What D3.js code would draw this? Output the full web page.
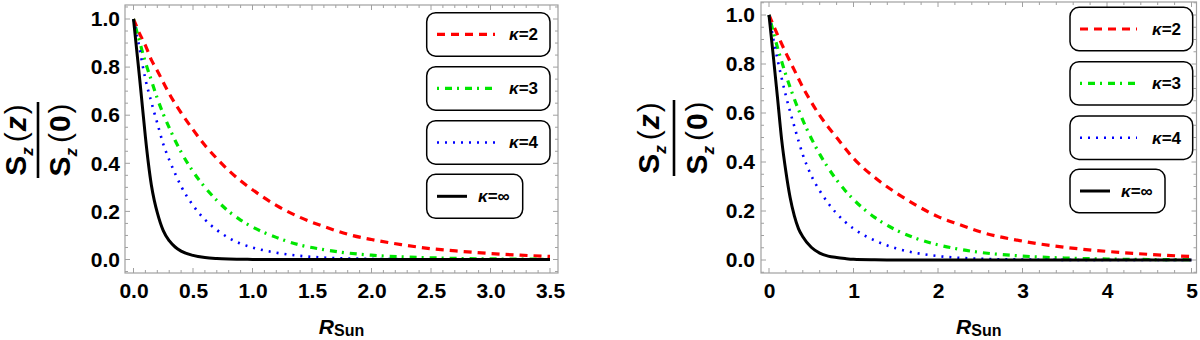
<!DOCTYPE html>
<html><head><meta charset="utf-8">
<script src="https://cdn.jsdelivr.net/npm/d3@7"></script>
<style>
body{margin:0;background:#fff}
svg{display:block}
text{font-family:"Liberation Sans",Arial,Helvetica,sans-serif}
</style>
</head><body>
<svg id="c" width="1200" height="340"></svg>
<script>
// ---------- data ----------
const kappaLabels = ["2", "3", "4", "\u221E"];

const leftX = [0,0.025,0.05,0.075,0.1,0.125,0.15,0.175,0.2,0.25,0.3,0.35,0.4,0.5,0.6,0.7,0.8,0.9,1.0,1.2,1.4,1.6,1.8,2.0,2.25,2.5,2.75,3.0,3.25,3.5];
const leftK2 = [1,0.97,0.94,0.915,0.89,0.86,0.83,0.807,0.785,0.737,0.69,0.648,0.61,0.54,0.475,0.42,0.37,0.327,0.29,0.225,0.175,0.137,0.105,0.083,0.062,0.045,0.034,0.025,0.018,0.013];
const leftK3 = [1,0.953,0.91,0.863,0.82,0.782,0.745,0.707,0.67,0.605,0.548,0.495,0.447,0.366,0.3,0.246,0.2,0.164,0.135,0.092,0.06,0.041,0.027,0.018,0.011,0.007,0.004,0.0025,0.0015,0.001];
const leftK4 = [1,0.94,0.88,0.812,0.75,0.7,0.655,0.61,0.567,0.48,0.415,0.357,0.305,0.225,0.166,0.123,0.09,0.066,0.05,0.028,0.015,0.008,0.0045,0.0025,0.0012,0.0006,0.0003,0.0001,0,0];
const leftKinf = [1,0.88,0.76,0.635,0.51,0.4,0.31,0.245,0.195,0.12,0.078,0.052,0.035,0.017,0.008,0.004,0.002,0.001,0.0005,0.0002,0.0001,0,0,0,0,0,0,0,0,0];

const rightX = [0,0.05,0.1,0.15,0.2,0.25,0.3,0.35,0.4,0.5,0.6,0.7,0.8,0.9,1.0,1.25,1.5,1.75,2.0,2.25,2.5,3.0,3.5,4.0,4.5,5.0];
const rightK2 = [1,0.96,0.92,0.882,0.845,0.81,0.775,0.74,0.705,0.645,0.59,0.543,0.5,0.456,0.415,0.337,0.275,0.222,0.177,0.145,0.115,0.077,0.052,0.035,0.023,0.014];
const rightK3 = [1,0.932,0.868,0.81,0.755,0.705,0.657,0.613,0.571,0.497,0.432,0.376,0.327,0.284,0.247,0.174,0.123,0.087,0.062,0.044,0.031,0.016,0.008,0.004,0.002,0.001];
const rightK4 = [1,0.905,0.82,0.742,0.67,0.605,0.545,0.485,0.43,0.345,0.283,0.232,0.19,0.156,0.128,0.08,0.048,0.028,0.016,0.009,0.005,0.002,0.0005,0,0,0];
const rightKinf = [1,0.835,0.665,0.49,0.36,0.255,0.18,0.127,0.095,0.052,0.028,0.016,0.01,0.006,0.003,0.001,0.0003,0,0,0,0,0,0,0,0,0];

const leftXTicks = [0,0.5,1,1.5,2,2.5,3,3.5];
const leftXTickLabels = ["0.0","0.5","1.0","1.5","2.0","2.5","3.0","3.5"];
const rightXTicks = [0,1,2,3,4,5];
const rightXTickLabels = ["0","1","2","3","4","5"];
const yTicks = [0,0.2,0.4,0.6,0.8,1.0];
const yTickLabels = ["0.0","0.2","0.4","0.6","0.8","1.0"];

// ---------- styles ----------
const styles = [
  {color:"#ff0000", width:3.2, dash:"8,6"},
  {color:"#00e600", width:3.2, dash:"2,6,7,5"},
  {color:"#0000ff", width:2.6, dash:"2,6"},
  {color:"#000000", width:3,   dash:null}
];

const svg = d3.select("#c");
const FONT = "'Liberation Sans',Arial,sans-serif";

function panel(cfg){
  const g = svg.append("g");
  const x = d3.scaleLinear().domain(cfg.xDomain).range(cfg.xRange);
  const y = d3.scaleLinear().domain([0,1]).range(cfg.yRange);
  const fx0 = cfg.frame[0], fy0 = cfg.frame[1], fx1 = cfg.frame[2], fy1 = cfg.frame[3];
  const id = "clip" + cfg.name;
  svg.append("clipPath").attr("id", id).append("rect")
    .attr("x", fx0).attr("y", fy0).attr("width", fx1-fx0).attr("height", fy1-fy0);

  // frame
  g.append("rect").attr("x", fx0).attr("y", fy0).attr("width", fx1-fx0).attr("height", fy1-fy0)
    .attr("fill","none").attr("stroke","#a0a0a0").attr("stroke-width",1.2);

  const tc = "#a0a0a0";
  const xMinor = d3.range(Math.ceil(x.invert(fx0)/cfg.xMinorStep), Math.floor(x.invert(fx1)/cfg.xMinorStep)+1).map(i=>+(i*cfg.xMinorStep).toFixed(4));
  const isMajorX = v => cfg.xTicks.some(t=>Math.abs(t-v)<1e-6);
  xMinor.forEach(v=>{
    const L = isMajorX(v) ? 5 : 3;
    g.append("line").attr("x1",x(v)).attr("x2",x(v)).attr("y1",fy1).attr("y2",fy1-L).attr("stroke",tc).attr("stroke-width",1);
    g.append("line").attr("x1",x(v)).attr("x2",x(v)).attr("y1",fy0).attr("y2",fy0+L).attr("stroke",tc).attr("stroke-width",1);
  });
  const yMinor = d3.range(Math.ceil(y.invert(fy1)/0.05), Math.floor(y.invert(fy0)/0.05)+1).map(i=>+(i*0.05).toFixed(4));
  const isMajorY = v => yTicks.some(t=>Math.abs(t-v)<1e-6);
  yMinor.forEach(v=>{
    const L = isMajorY(v) ? 5 : 3;
    g.append("line").attr("y1",y(v)).attr("y2",y(v)).attr("x1",fx0).attr("x2",fx0+L).attr("stroke",tc).attr("stroke-width",1);
    g.append("line").attr("y1",y(v)).attr("y2",y(v)).attr("x1",fx1).attr("x2",fx1-L).attr("stroke",tc).attr("stroke-width",1);
  });

  const ax = g.append("g").attr("transform",`translate(0,${fy1})`)
    .call(d3.axisBottom(x).tickValues(cfg.xTicks).tickFormat((d,i)=>cfg.xTickLabels[i]).tickSize(0).tickPadding(10));
  ax.select(".domain").remove();
  ax.selectAll("text").attr("font-family",FONT).attr("font-size",21).attr("font-weight","bold").attr("fill","#000");
  const ay = g.append("g").attr("transform",`translate(${fx0},0)`)
    .call(d3.axisLeft(y).tickValues(yTicks).tickFormat((d,i)=>yTickLabels[i]).tickSize(0).tickPadding(cfg.yPad));
  ay.select(".domain").remove();
  ay.selectAll("text").attr("font-family",FONT).attr("font-size",21).attr("font-weight","bold").attr("fill","#000");

  // curves
  const curves = g.append("g").attr("clip-path",`url(#${id})`);
  cfg.series.forEach((vals,i)=>{
    const pts = cfg.xs.map((xv,j)=>[xv, vals[j]]);
    const line = d3.line().x(d=>x(d[0])).y(d=>y(d[1])).curve(d3.curveMonotoneX);
    const p = curves.append("path").attr("d", line(pts)).attr("fill","none")
      .attr("stroke", styles[i].color).attr("stroke-width", styles[i].width);
    if (styles[i].dash) p.attr("stroke-dasharray", styles[i].dash);
  });

  // x-axis title
  const cx = (fx0+fx1)/2;
  const xt = g.append("text").attr("x", cx).attr("y", cfg.xTitleY).attr("text-anchor","middle")
    .attr("font-family",FONT).attr("font-weight","bold").attr("fill","#000");
  xt.append("tspan").attr("font-style","italic").attr("font-size",21).text("R");
  xt.append("tspan").attr("font-size",16).attr("dy",2).text("Sun");

  // y-axis title fraction
  const cy = cfg.yTitleCY;
  function frac(xpos, inner){
    const t = g.append("text").attr("transform",`translate(${xpos},${cy}) rotate(-90)`)
      .attr("text-anchor","middle").attr("font-family",FONT).attr("font-size",30).attr("font-weight","bold").attr("fill","#000");
    t.append("tspan").text("S");
    t.append("tspan").attr("font-size",17).attr("font-style","italic").attr("dy",7).text("z");
    t.append("tspan").attr("dy",-7).attr("dx",5).attr("font-weight","normal").text("(");
    t.append("tspan").attr("font-style", inner==="z"?"italic":"normal").attr("dx",1).text(inner);
    t.append("tspan").attr("font-weight","normal").attr("dx",2).text(")");
  }
  frac(fx0 + cfg.numOff, "z");
  frac(fx0 + cfg.denOff, "0");
  g.append("line").attr("x1",fx0+cfg.barOff).attr("x2",fx0+cfg.barOff).attr("y1",cy-38).attr("y2",cy+38)
    .attr("stroke","#000").attr("stroke-width",2.6);

  // legend
  cfg.legendBoxes.forEach((b,i)=>{
    const lg = g.append("g");
    lg.append("rect").attr("x",b[0]).attr("y",b[1]).attr("width",b[2]).attr("height",b[3])
      .attr("rx",9).attr("ry",9).attr("fill","#fff").attr("stroke","#000").attr("stroke-width",1.5);
    const ly = b[1] + b[3]/2;
    const l = lg.append("line").attr("x1",b[4]).attr("x2",b[5]).attr("y1",ly).attr("y2",ly)
      .attr("stroke",styles[i].color).attr("stroke-width",styles[i].width);
    if (styles[i].dash) l.attr("stroke-dasharray", styles[i].dash);
    const tx = lg.append("text").attr("x",b[6]).attr("y",ly+6).attr("font-family",FONT)
      .attr("font-size",17).attr("font-weight","bold").attr("fill","#000");
    tx.append("tspan").attr("font-style","italic").text("\u03BA");
    tx.append("tspan").text("=" + kappaLabels[i]);
  });
}

panel({
  name:"L",
  xDomain:[0,3.5], xRange:[133.5,550], yRange:[259.5,19],
  frame:[125,5,558,273],
  xTicks:leftXTicks, xTickLabels:leftXTickLabels, xMinorStep:0.1,
  yPad:5, xTitleY:334, yTitleCY:140, numOff:-99, barOff:-87, denOff:-55,
  xs:leftX, series:[leftK2,leftK3,leftK4,leftKinf],
  legendBoxes:[
    [426.7,12.7,123.3,43.5,437,495,509],
    [426.7,66.7,123.3,43.5,437,495,509],
    [426.7,120.7,123.3,43.5,437,495,509],
    [426.7,174.3,96,44,437,467,478]
  ]
});

panel({
  name:"R",
  xDomain:[0,5], xRange:[769,1191.5], yRange:[260,15],
  frame:[761,2,1196.5,273],
  xTicks:rightXTicks, xTickLabels:rightXTickLabels, xMinorStep:0.2,
  yPad:6, xTitleY:334, yTitleCY:138, numOff:-102, barOff:-87, denOff:-54,
  xs:rightX, series:[rightK2,rightK3,rightK4,rightKinf],
  legendBoxes:[
    [1070,7.3,122.7,43.4,1080,1137,1152],
    [1070,61.7,122.7,43.4,1080,1137,1152],
    [1070,116,122.7,43.4,1080,1137,1152],
    [1070,169.3,95,43.4,1080,1110,1121]
  ]
});
</script>
</body></html>
